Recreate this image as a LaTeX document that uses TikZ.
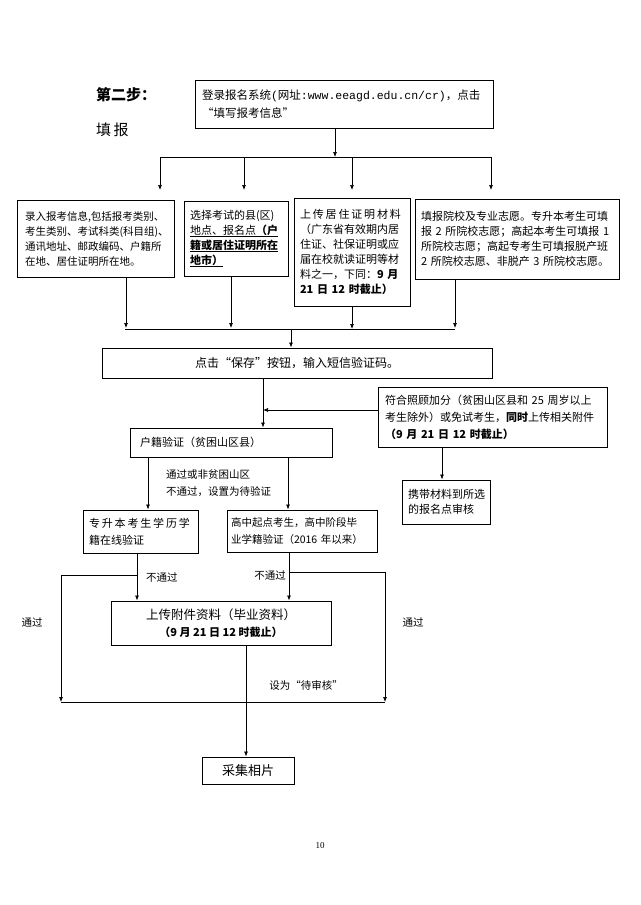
\documentclass[tikz,border=0pt]{standalone}
\usepackage{fontspec}
\setmainfont{Noto Sans CJK SC}
\newfontfamily\pagefont{Liberation Serif}
\newfontfamily\urlfont{Liberation Mono}
\usetikzlibrary{arrows.meta}
\tikzset{
  box/.style={draw, line width=1pt, inner xsep=6pt, inner ysep=4pt, align=left,
    font=\fontsize{10.5}{15}\selectfont},
  lbl/.style={inner sep=0pt, font=\fontsize{10.5}{13}\selectfont},
  con/.style={line width=0.7pt},
  arr/.style={con, -{Latex[length=5pt,width=4pt]}},
}
\begin{document}
\begin{tikzpicture}[x=1pt,y=-1pt]
    \useasboundingbox[fill=white] (0,0) rectangle (640,905);
    % heading
    \node[lbl, anchor=west, font=\fontsize{15}{18}\selectfont\bfseries] (step) at (96,95) {第二步：};
    \node[lbl, anchor=west, font=\fontsize{15}{18}\selectfont] (fill) at (96,130) {填\,报};
    % login
    \node[box, text width=284pt, minimum height=48pt, inner xsep=7pt,
      font=\fontsize{11.5}{18}\selectfont] (login) at (344,104)
      {登录报名系统{\urlfont(}网址{\urlfont:www.eeagd.edu.cn/cr)}，点击\\“填写报考信息”};
    % four boxes
    \node[box, text width=141pt, minimum height=77pt, inner xsep=8pt] (info) at (95.5,238.5)
      {录入报考信息,包括报考类别、\\考生类别、考试科类(科目组)、\\通讯地址、邮政编码、户籍所\\在地、居住证明所在地。};
    \node[box, text width=92pt, minimum height=75pt, font=\fontsize{11}{15}\selectfont] (site) at (236,238.5)
      {选择考试的县(区)\\\underline{地点、报名点\textbf{（户}}\\\underline{\textbf{籍或居住证明所在}}\\\underline{\textbf{地市）}}};
    \node[box, text width=104pt, minimum height=108pt, font=\fontsize{11}{15}\selectfont] (res) at (352,252)
      {上\,传\,居\,住\,证\,明\,材\,料\\（广东省有效期内居\\住证、社保证明或应\\届在校就读证明等材\\料之一，下同：\textbf{9 月}\\\textbf{21 日 12 时截止）}};
    \node[box, text width=192pt, minimum height=80pt, font=\fontsize{11}{15}\selectfont] (wish) at (517,239)
      {填报院校及专业志愿。专升本考生可填\\报 2 所院校志愿；高起本考生可填报 1\\所院校志愿；高起专考生可填报脱产班\\2 所院校志愿、非脱产 3 所院校志愿。};
    % save
    \node[box, minimum width=390pt, minimum height=30pt, align=center,
      font=\fontsize{12}{15}\selectfont] (save) at (297,363)
      {点击“保存”按钮，输入短信验证码。};
    % household check and bonus
    \node[box, text width=182pt, minimum height=29pt, inner xsep=10pt,
      font=\fontsize{11}{15}\selectfont] (hj) at (231,442.5)
      {户籍验证（贫困山区县）};
    \node[box, text width=215pt, minimum height=60pt, inner xsep=7pt,
      font=\fontsize{11}{17}\selectfont] (bonus) at (492.5,417)
      {符合照顾加分（贫困山区县和 25 周岁以上\\考生除外）或免试考生，\textbf{同时}上传相关附件\\\textbf{（9 月 21 日 12 时截止）}};
    \node[box, text width=76pt, minimum height=44pt, font=\fontsize{11}{15}\selectfont] (carry) at (446,502)
      {携带材料到所选\\的报名点审核};
    \node[box, text width=103pt, minimum height=43pt, font=\fontsize{11}{17}\selectfont] (zsb) at (140.5,531.5)
      {专\,升\,本\,考\,生\,学\,历\,学\\籍在线验证};
    \node[box, text width=142pt, minimum height=42pt, inner xsep=4pt,
      font=\fontsize{10.5}{17}\selectfont] (gz) at (302,531)
      {高中起点考生，高中阶段毕\\\mbox{业学籍验证（2016 年以来）}};
    % upload and photo
    \node[box, minimum width=220pt, minimum height=44pt, align=center,
      font=\fontsize{12.5}{17}\selectfont] (upload) at (221,623)
      {上传附件资料（毕业资料）\\{\fontsize{11}{17}\selectfont\bfseries（9 月 21 日 12 时截止）}};
    \node[box, minimum width=92pt, minimum height=27pt, align=center,
      font=\fontsize{13}{15}\selectfont] (photo) at (248,770.5) {采集相片};
    % labels
    \node[lbl, anchor=west] (l1) at (166,475) {通过或非贫困山区};
    \node[lbl, anchor=west] (l2) at (166,492) {不通过，设置为待验证};
    \node[lbl, anchor=west] (l3) at (146,578) {不通过};
    \node[lbl, anchor=east] (l4) at (286,576) {不通过};
    \node[lbl] (l5) at (32,622) {通过};
    \node[lbl] (l6) at (413,622) {通过};
    \node[lbl] (l7) at (306,685) {设为“待审核”};
    \node[lbl, font=\pagefont\fontsize{9}{10}\selectfont] (page) at (320,846) {10};
    % junction points
    \coordinate (top) at (335,157);
    \coordinate (bot) at (291,329);
    \coordinate (join) at (263,410);
    \coordinate (pl) at (61,702);
    \coordinate (pr) at (385,702);
    % connectors: top part
    \draw[arr] (login.south -| top) -- (top);
    \draw[con] (160,157) -- (491,157);
    \foreach \x in {160,244,352,491}
      \draw[arr] (\x,157) -- (\x,190);
    \draw[arr] (info.south -| 126,0) -- (126,328);
    \draw[arr] (site.south -| 231,0) -- (231,328);
    \draw[arr] (res.south) -- (res.south |- bot);
    \draw[arr] (wish.south -| 455,0) -- (455,328);
    \draw[con] (125,329) -- (455,329);
    \draw[arr] (bot) -- (save.north -| bot);
    % middle part
    \draw[arr] (save.south -| join) -- (hj.north -| join);
    \draw[arr] (bonus.west |- join) -- (join);
    \draw[arr] (bonus.south -| 442,0) -- (carry.north -| 442,0);
    \draw[arr] (hj.south -| 148,0) -- (zsb.north -| 148,0);
    \draw[arr] (hj.south -| 288,0) -- (gz.north -| 288,0);
    % lower part
    \draw[arr] (zsb.south -| 137,0) -- (upload.north -| 137,0);
    \draw[arr] (gz.south -| 289,0) -- (upload.north -| 289,0);
    \draw[arr] (137,575) -- (61,575) -- (pl);
    \draw[arr] (289,572) -- (385,572) -- (pr);
    \draw[con] (pl) -- (pr);
    \draw[arr] (upload.south -| 246,0) -- (photo.north -| 246,0);
\end{tikzpicture}
\end{document}
